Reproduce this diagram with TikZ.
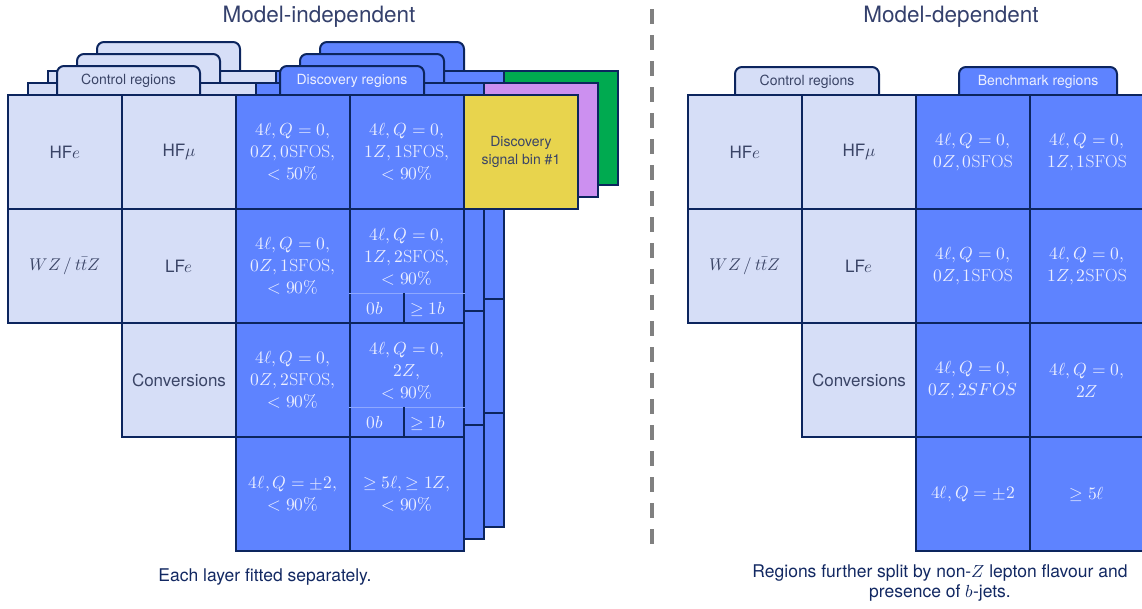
\documentclass[tikz,border=0pt]{standalone}
\usepackage{fontspec}
\usepackage{unicode-math}
\setmathfont{Latin Modern Math}
\setsansfont{TeX Gyre Heros}

\definecolor{navy}{RGB}{12,37,94}
\definecolor{crfill}{RGB}{214,222,247}
\definecolor{srfill}{RGB}{94,131,255}
\definecolor{crtext}{RGB}{58,68,102}
\definecolor{srtext}{RGB}{236,239,255}
\definecolor{sigyellow}{RGB}{232,212,77}
\definecolor{sigpurple}{RGB}{204,144,240}
\definecolor{siggreen}{RGB}{0,170,80}
\definecolor{sepgray}{RGB}{128,128,128}
\definecolor{titlecol}{RGB}{52,64,108}
\definecolor{capcol}{RGB}{18,40,98}

\tikzset{
  gridcell/.style={draw=navy, line width=2pt, minimum width=114pt, minimum height=114pt,
    inner sep=0pt, align=center, font=\fontsize{17.5}{22}\selectfont},
  crcell/.style={gridcell, fill=crfill, text=crtext, font=\sffamily\fontsize{17}{22}\selectfont},
  srcell/.style={gridcell, fill=srfill, text=srtext},
  splitcell/.style={srcell, text depth=19pt},
  sigcell/.style={gridcell, fill=sigyellow, text=crtext, font=\sffamily\fontsize{14}{18}\selectfont},
  cellbox/.style={draw=navy, line width=2pt},
  regtab/.style={draw=navy, line width=2pt, rounded corners=7pt},
  tablabel/.style={inner sep=0pt, font=\sffamily\fontsize{14}{17}\selectfont},
  sublabel/.style={inner sep=0pt, text=srtext, font=\fontsize{17.5}{22}\selectfont},
  subline/.style={draw=srfill!70!white, line width=0.8pt},
  subdiv/.style={draw=navy, line width=1.5pt},
  title/.style={inner sep=0pt, text=titlecol, font=\sffamily\fontsize{22.5}{26}\selectfont},
  caption/.style={inner sep=0pt, align=center, text=capcol, font=\sffamily\fontsize{17.5}{20}\selectfont},
  sepline/.style={draw=sepgray, line width=4pt, dash pattern=on 15pt off 11pt}
}

\begin{document}
\begin{tikzpicture}[x=1pt, y=-1pt]
  \useasboundingbox (0,0) rectangle (1142,608);

  % layers behind, back to front
  \foreach \k/\sig in {2/siggreen, 1/sigpurple} {
    \begin{scope}[shift={(20*\k,-12*\k)}]
      \filldraw[regtab, fill=crfill] (57,95) -- (57,66) -- (200,66) -- (200,95);
      \filldraw[regtab, fill=srfill] (280,95) -- (280,66) -- (424,66) -- (424,95);
      \foreach \c/\r in {0/0, 0/1, 1/0, 1/1, 1/2}
        \filldraw[cellbox, fill=crfill] (8+114*\c,95+114*\r) rectangle ++(114,114);
      \foreach \c in {2,3}
        \foreach \r in {0,...,3}
          \filldraw[cellbox, fill=srfill] (8+114*\c,95+114*\r) rectangle ++(114,114);
      \filldraw[cellbox, fill=\sig] (464,95) rectangle ++(114,114);
    \end{scope}
  }

  % front layer
  \filldraw[regtab, fill=crfill] (57,95) -- (57,66) -- (200,66) -- (200,95);
  \filldraw[regtab, fill=srfill] (280,95) -- (280,66) -- (424,66) -- (424,95);
  \node[tablabel, text=crtext] (li-crtab) at (128.5,81) {Control regions};
  \node[tablabel, text=srtext] (li-srtab) at (352,81) {Discovery regions};

  \node[crcell] (li-hfe)  at (65,152)  {HF$e$};
  \node[crcell] (li-wz)   at (65,266)  {$WZ\,/\,t\bar{t}Z$};
  \node[crcell] (li-hfmu) at (179,152) {HF$\mu$};
  \node[crcell] (li-lfe)  at (179,266) {LF$e$};
  \node[crcell] (li-conv) at (179,380) {Conversions};

  \node[srcell] (li-sr-a) at (293,152) {$4\ell, Q = 0,$\\$0Z, 0\mathrm{SFOS},$\\$< 50\%$};
  \node[srcell] (li-sr-b) at (293,266) {$4\ell, Q = 0,$\\$0Z, 1\mathrm{SFOS},$\\$< 90\%$};
  \node[srcell] (li-sr-c) at (293,380) {$4\ell, Q = 0,$\\$0Z, 2\mathrm{SFOS},$\\$< 90\%$};
  \node[srcell] (li-sr-d) at (293,494) {$4\ell, Q = \pm 2,$\\$< 90\%$};
  \node[srcell] (li-sr-e) at (407,152) {$4\ell, Q = 0,$\\$1Z, 1\mathrm{SFOS},$\\$< 90\%$};
  \node[splitcell] (li-sr-f) at (407,266) {$4\ell, Q = 0,$\\$1Z, 2\mathrm{SFOS},$\\$< 90\%$};
  \node[splitcell] (li-sr-g) at (407,380) {$4\ell, Q = 0,$\\$2Z,$\\$< 90\%$};
  \node[srcell] (li-sr-h) at (407,494) {$\geq 5\ell, \geq 1Z,$\\$< 90\%$};
  \node[sigcell] (li-sig) at (521,152) {Discovery\\signal bin \#1};

  % split cells
  \node[sublabel] (li-sr-f-0b) at ([xshift=-32pt,yshift=15pt]li-sr-f.south) {$0b$};
  \node[sublabel] (li-sr-f-1b) at ([xshift=21pt,yshift=15pt]li-sr-f.south) {$\geq 1b$};
  \draw[subline] ([yshift=31pt]li-sr-f.south west) -- ([yshift=31pt]li-sr-f.south east);
  \draw[subdiv] ([xshift=-3pt]li-sr-f.south) -- ++(0,-31);

  \node[sublabel] (li-sr-g-0b) at ([xshift=-32pt,yshift=15pt]li-sr-g.south) {$0b$};
  \node[sublabel] (li-sr-g-1b) at ([xshift=21pt,yshift=15pt]li-sr-g.south) {$\geq 1b$};
  \draw[subline] ([yshift=31pt]li-sr-g.south west) -- ([yshift=31pt]li-sr-g.south east);
  \draw[subdiv] ([xshift=-3pt]li-sr-g.south) -- ++(0,-31);

  % right grid
  \filldraw[regtab, fill=crfill] (735,95) -- (735,67) -- (879,67) -- (879,95);
  \filldraw[regtab, fill=srfill] (959,95) -- (959,67) -- (1117,67) -- (1117,95);
  \node[tablabel, text=crtext] (rg-crtab) at (807,82) {Control regions};
  \node[tablabel, text=srtext] (rg-bmtab) at (1038,82) {Benchmark regions};

  \node[crcell] (rg-hfe)  at (745,152) {HF$e$};
  \node[crcell] (rg-wz)   at (745,266) {$WZ\,/\,t\bar{t}Z$};
  \node[crcell] (rg-hfmu) at (859,152) {HF$\mu$};
  \node[crcell] (rg-lfe)  at (859,266) {LF$e$};
  \node[crcell] (rg-conv) at (859,380) {Conversions};

  \node[srcell] (rg-br-a) at (973,152)  {$4\ell, Q = 0,$\\$0Z, 0\mathrm{SFOS}$};
  \node[srcell] (rg-br-b) at (973,266)  {$4\ell, Q = 0,$\\$0Z, 1\mathrm{SFOS}$};
  \node[srcell] (rg-br-c) at (973,380)  {$4\ell, Q = 0,$\\$0Z, 2SFOS$};
  \node[srcell] (rg-br-d) at (973,494)  {$4\ell, Q = \pm 2$};
  \node[srcell] (rg-br-e) at (1087,152) {$4\ell, Q = 0,$\\$1Z, 1\mathrm{SFOS}$};
  \node[srcell] (rg-br-f) at (1087,266) {$4\ell, Q = 0,$\\$1Z, 2\mathrm{SFOS}$};
  \node[srcell] (rg-br-g) at (1087,380) {$4\ell, Q = 0,$\\$2Z$};
  \node[srcell] (rg-br-h) at (1087,494) {$\geq 5\ell$};

  % titles, captions, separator
  \node[title] (mi-title) at (319,17) {Model-independent};
  \node[title] (md-title) at (951,17) {Model-dependent};
  \node[caption] (mi-cap) at (265,577) {Each layer fitted separately.};
  \node[caption] (md-cap) at (940,583) {Regions further split by non-$Z$ lepton flavour and\\presence of $b$-jets.};
  \draw[sepline] (652,9) -- (652,555);
\end{tikzpicture}
\end{document}
